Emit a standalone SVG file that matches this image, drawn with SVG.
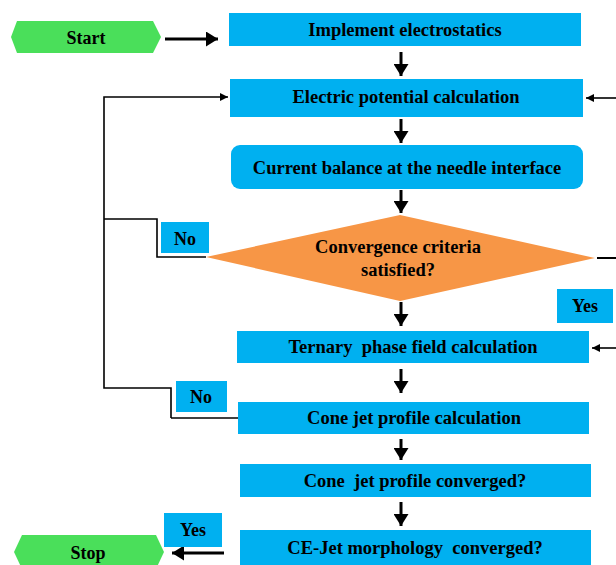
<svg xmlns="http://www.w3.org/2000/svg" width="616" height="565" viewBox="0 0 616 565">
<style>
.box{fill:#00B0F0}
.term{fill:#4ADF5A}
.dec{fill:#F79646}
.t{font-family:"Liberation Serif","Times New Roman",serif;font-weight:bold;font-size:18.5px;fill:#000;text-anchor:middle;dominant-baseline:central;white-space:pre}
.s{font-size:18px}
.thick{stroke:#000;stroke-width:3;fill:none}
.thin{stroke:#000;stroke-width:1.6;fill:none}
</style>
<defs>
<marker id="big" markerWidth="5" markerHeight="5" refX="4" refY="2.5" orient="auto" markerUnits="strokeWidth"><path d="M0,0 L4,2.5 L0,5 Z" fill="#000"/></marker>
<marker id="small" markerWidth="6" markerHeight="6" refX="5" refY="3" orient="auto" markerUnits="strokeWidth"><path d="M0,0.5 L5,3 L0,5.5 Z" fill="#000"/></marker>
</defs>
<g id="connectors">
<line class="thick" x1="165" y1="39" x2="218" y2="39" marker-end="url(#big)"/>
<line class="thick" x1="401" y1="52" x2="401" y2="76" marker-end="url(#big)"/>
<line class="thick" x1="401" y1="119" x2="401" y2="143" marker-end="url(#big)"/>
<line class="thick" x1="401" y1="190" x2="401" y2="213" marker-end="url(#big)"/>
<line class="thick" x1="401" y1="302" x2="401" y2="326" marker-end="url(#big)"/>
<line class="thick" x1="401" y1="369" x2="401" y2="393" marker-end="url(#big)"/>
<line class="thick" x1="401" y1="439" x2="401" y2="460" marker-end="url(#big)"/>
<line class="thick" x1="401" y1="502" x2="401" y2="526" marker-end="url(#big)"/>
<line class="thick" x1="224" y1="553" x2="172" y2="553" marker-end="url(#big)"/>
<polyline class="thin" points="206,257 157,257 157,219 104,219"/>
<polyline class="thin" points="171,418 171,388 104,388 104,97 228,97" marker-end="url(#small)"/>
<line class="thin" x1="238" y1="418" x2="171" y2="418"/>
<line class="thin" x1="616" y1="98" x2="586" y2="98" marker-end="url(#small)"/>
<line class="thin" x1="616" y1="348" x2="592" y2="348" marker-end="url(#small)"/>
<line x1="597" y1="258" x2="616" y2="258" stroke="#000" stroke-width="2"/>
</g>
<g id="start">
<polygon class="term" points="11,37 17,21 153,21 161,37 153,53 17,53"/>
<text class="t s" x="86" y="38">Start</text>
</g>
<g id="implement">
<rect class="box" x="229" y="13" width="352" height="33"/>
<text class="t" x="405" y="30">Implement electrostatics</text>
</g>
<g id="potential">
<rect class="box" x="230" y="79" width="353" height="38"/>
<text class="t" x="406" y="97">Electric potential calculation</text>
</g>
<g id="current">
<rect class="box" x="231" y="145" width="352" height="44" rx="9"/>
<text class="t" x="407" y="168">Current balance at the needle interface</text>
</g>
<g id="convergence">
<polygon class="dec" points="206,257 400,215 595,258 400,301"/>
<text class="t" x="398" y="247">Convergence criteria</text>
<text class="t" x="398" y="270">satisfied?</text>
</g>
<g id="no1">
<rect class="box" x="161" y="222" width="48" height="31"/>
<text class="t s" x="185" y="239">No</text>
</g>
<g id="yes1">
<rect class="box" x="557" y="289" width="56" height="34"/>
<text class="t s" x="585" y="306">Yes</text>
</g>
<g id="ternary">
<rect class="box" x="237" y="331" width="352" height="32"/>
<text class="t" x="413" y="347" xml:space="preserve">Ternary  phase field calculation</text>
</g>
<g id="no2">
<rect class="box" x="176" y="381" width="51" height="31"/>
<text class="t s" x="201" y="397">No</text>
</g>
<g id="conejet">
<rect class="box" x="238" y="402" width="351" height="32"/>
<text class="t" x="414" y="418">Cone jet profile calculation</text>
</g>
<g id="converged">
<rect class="box" x="240" y="464" width="351" height="33"/>
<text class="t" x="415" y="481" xml:space="preserve">Cone  jet profile converged?</text>
</g>
<g id="morphology">
<rect class="box" x="240" y="530" width="351" height="35"/>
<text class="t" x="415" y="548" xml:space="preserve">CE-Jet morphology  converged?</text>
</g>
<g id="yes2">
<rect class="box" x="164" y="513" width="58" height="34"/>
<text class="t s" x="193" y="530">Yes</text>
</g>
<g id="stop">
<polygon class="term" points="14,552 22,535 156,535 164,552 156,569 22,569"/>
<text class="t s" x="88" y="553">Stop</text>
</g>
</svg>
